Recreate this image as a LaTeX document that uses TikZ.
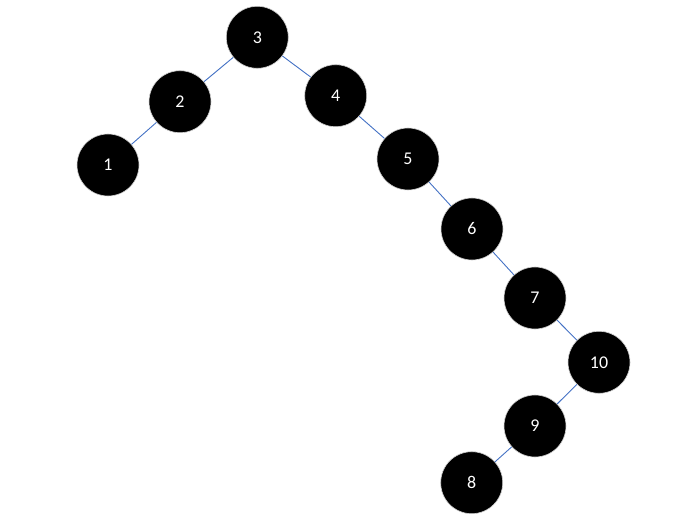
\documentclass[tikz,border=0pt]{standalone}
\usepackage{fontspec}
\setmainfont{Carlito}
\begin{document}
\begin{tikzpicture}[x=1bp,y=-1bp,
  tnode/.style={circle,fill=black,draw=gray!35,line width=0.6bp,minimum size=62bp,inner sep=0pt,text=white,font=\fontsize{18}{21}\selectfont},
  link/.style={draw={rgb,255:red,68;green,114;blue,196},line width=0.9bp}]
\useasboundingbox (0,0) rectangle (688,531);
\node[tnode] (n3) at (257.3,37.3) {3};
\node[tnode] (n2) at (180,101.7) {2};
\node[tnode] (n1) at (108,165) {1};
\node[tnode] (n4) at (335.7,95.7) {4};
\node[tnode] (n5) at (408,159) {5};
\node[tnode] (n6) at (472,229) {6};
\node[tnode] (n7) at (535,298) {7};
\node[tnode] (n10) at (599,362.3) {10};
\node[tnode] (n9) at (535,426) {9};
\node[tnode] (n8) at (471.7,482.7) {8};
\draw[link] (n3) -- (n2);
\draw[link] (n2) -- (n1);
\draw[link] (n3) -- (n4);
\draw[link] (n4) -- (n5);
\draw[link] (n5) -- (n6);
\draw[link] (n6) -- (n7);
\draw[link] (n7) -- (n10);
\draw[link] (n10) -- (n9);
\draw[link] (n9) -- (n8);
\end{tikzpicture}
\end{document}
